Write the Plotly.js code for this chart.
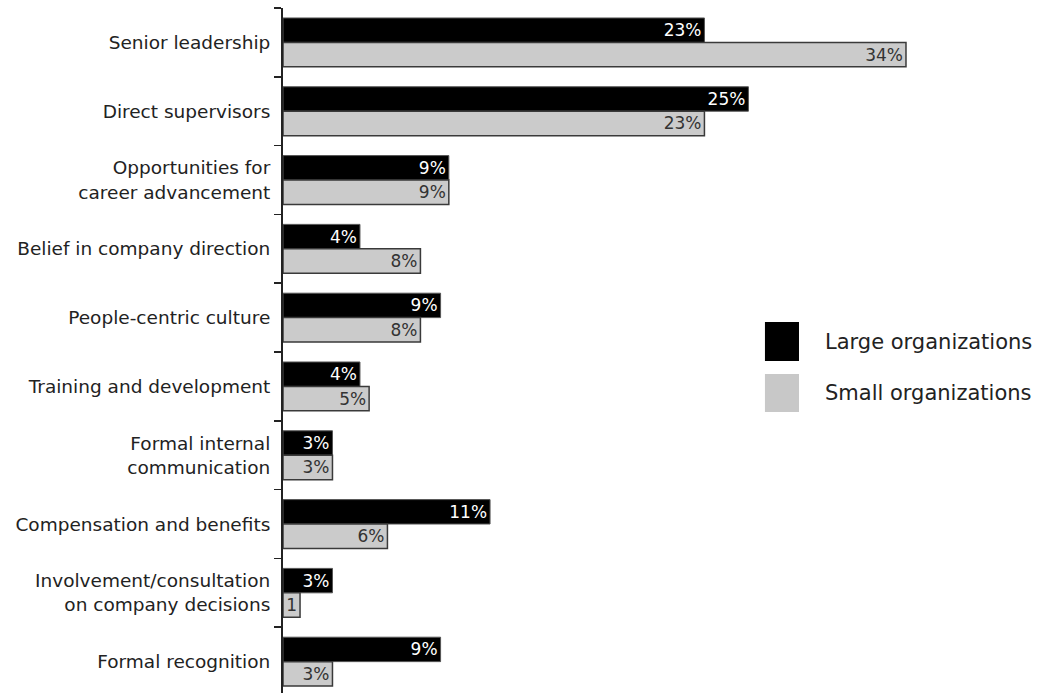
<!DOCTYPE html>
<html>
<head>
<meta charset="utf-8">
<script src="https://cdn.plot.ly/plotly-3.0.1.min.js"></script>
<style>html,body{margin:0;padding:0;background:#fff;}#chart{width:1048px;height:693px;}</style>
</head>
<body>
<div id="chart"></div>
<script>
const categories = [
  "Senior leadership",
  "Direct supervisors",
  "Opportunities for<br>career advancement",
  "Belief in company direction",
  "People-centric culture",
  "Training and development",
  "Formal internal<br>communication",
  "Compensation and benefits",
  "Involvement/consultation<br>on company decisions",
  "Formal recognition"
];
const seriesNames = ["Large organizations", "Small organizations"];
const largeValues = [23.0, 25.4, 9.05, 4.2, 8.6, 4.2, 2.7, 11.3, 2.7, 8.6];
const smallValues = [34.0, 23.0, 9.05, 7.5, 7.5, 4.7, 2.7, 5.7, 0.93, 2.7];
const largeLabels = ["23%", "25%", "9%", "4%", "9%", "4%", "3%", "11%", "3%", "9%"];
const smallLabels = ["34%", "23%", "9%", "8%", "8%", "5%", "3%", "6%", "1", "3%"];

const FONT = "DejaVu Sans, Verdana, sans-serif";
const traces = [
  {
    type: "bar", orientation: "h", name: seriesNames[0],
    y: categories, x: largeValues, text: largeLabels,
    textposition: "inside", insidetextanchor: "end", constraintext: "none",
    textfont: {family: FONT, size: 17, color: "#ffffff"},
    marker: {color: "#000000", line: {color: "#555555", width: 1}},
    hoverinfo: "skip", showlegend: false, cliponaxis: false
  },
  {
    type: "bar", orientation: "h", name: seriesNames[1],
    y: categories, x: smallValues, text: smallLabels,
    textposition: "inside", insidetextanchor: "end", constraintext: "none",
    textfont: {family: FONT, size: 17, color: "#333333"},
    marker: {color: "#cbcbcb", line: {color: "#3a3a3a", width: 1.5}},
    hoverinfo: "skip", showlegend: false, cliponaxis: false
  }
];

const layout = {
  width: 1048, height: 693,
  margin: {l: 283, r: 0, t: 8, b: 0, pad: 0},
  paper_bgcolor: "#ffffff", plot_bgcolor: "#ffffff",
  barmode: "group", bargap: 0.29, bargroupgap: 0,
  font: {family: FONT, color: "#222222"},
  xaxis: {range: [0, 41.75], visible: false, fixedrange: true},
  yaxis: {
    type: "category", categoryorder: "array", categoryarray: categories,
    range: [9.456, -0.5],
    tickson: "boundaries", ticks: "outside", ticklen: 7, tickwidth: 1.5, tickcolor: "#222222",
    showline: true, linecolor: "#222222", linewidth: 2,
    showgrid: false, zeroline: false,
    tickfont: {family: FONT, size: 18.5, color: "#222222"},
    ticklabelstandoff: 7, fixedrange: true
  },
  shapes: [
    {type: "rect", xref: "paper", yref: "paper", x0: 0.630, x1: 0.6745, y0: 0.4847, y1: 0.5416,
     fillcolor: "#000000", line: {width: 0}},
    {type: "rect", xref: "paper", yref: "paper", x0: 0.630, x1: 0.6745, y0: 0.4102, y1: 0.4657,
     fillcolor: "#c8c8c8", line: {width: 0}}
  ],
  annotations: [
    {xref: "paper", yref: "paper", x: 0.7059, y: 0.5124, xanchor: "left", yanchor: "middle",
     text: seriesNames[0], showarrow: false, font: {family: FONT, size: 21, color: "#222222"}},
    {xref: "paper", yref: "paper", x: 0.7059, y: 0.4380, xanchor: "left", yanchor: "middle",
     text: seriesNames[1], showarrow: false, font: {family: FONT, size: 21, color: "#222222"}}
  ]
};

Plotly.newPlot("chart", traces, layout, {displayModeBar: false, staticPlot: true});
</script>
</body>
</html>
